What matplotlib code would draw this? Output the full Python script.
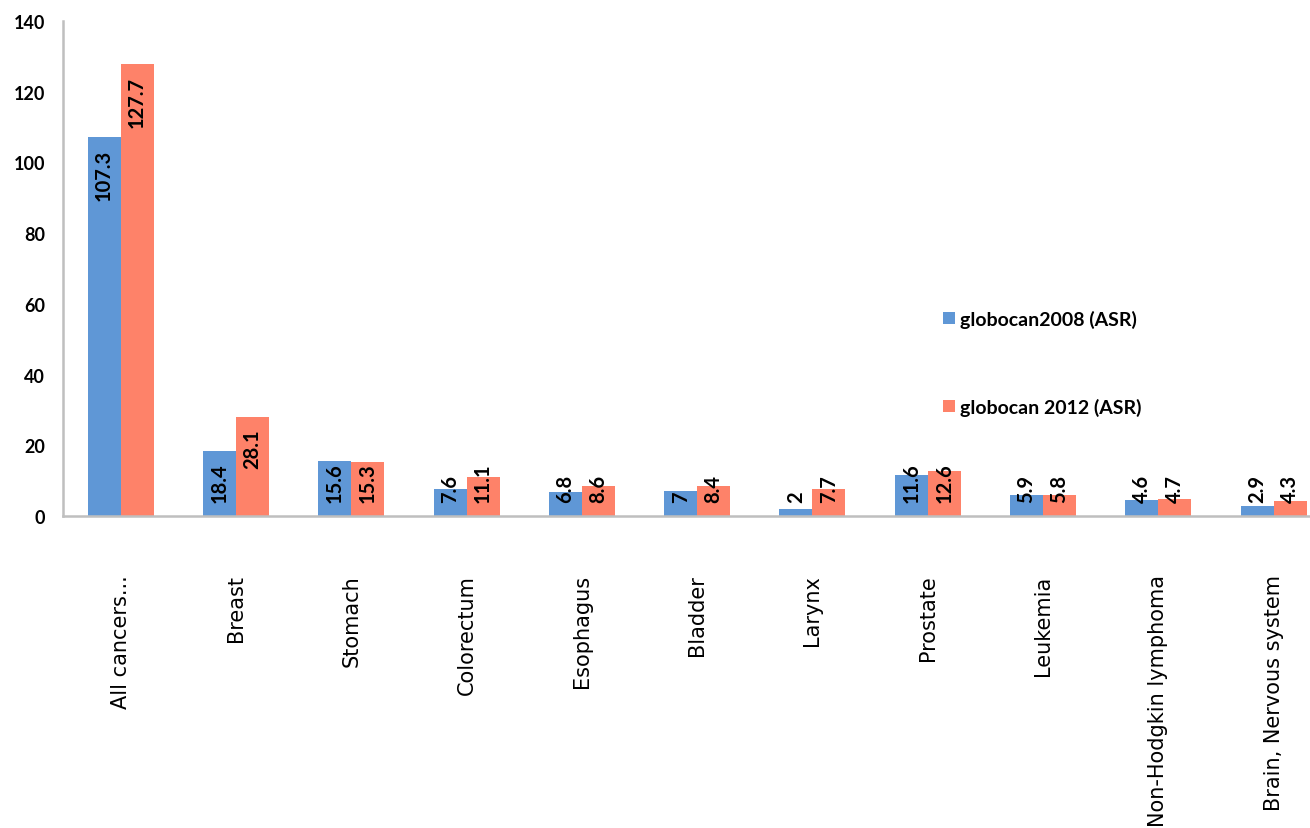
import numpy as np
import matplotlib.pyplot as plt

sites = ['All cancers...', 'Breast', 'Stomach', 'Colorectum', 'Esophagus',
         'Bladder', 'Larynx', 'Prostate', 'Leukemia', 'Non-Hodgkin lymphoma',
         'Brain, Nervous system']
asr_2008 = [107.3, 18.4, 15.6, 7.6, 6.8, 7, 2, 11.6, 5.9, 4.6, 2.9]
asr_2012 = [127.7, 28.1, 15.3, 11.1, 8.6, 8.4, 7.7, 12.6, 5.8, 4.7, 4.3]
series_names = ['globocan2008 (ASR)', 'globocan 2012 (ASR)']
colors = ['#5f97d6', '#fe8269']

fig = plt.figure(figsize=(13.1, 8.29), dpi=100)
ax = fig.add_axes([63 / 1310, (829 - 517) / 829, (1310 - 63) / 1310, 495 / 829])

x = np.arange(len(sites))
w = 0.286
b1 = ax.bar(x - w / 2, asr_2008, w, color=colors[0], label=series_names[0])
b2 = ax.bar(x + w / 2, asr_2012, w, color=colors[1], label=series_names[1])

ax.set_xlim(-0.5, 10.315)
ax.set_ylim(0, 140)
ax.set_yticks(np.arange(0, 141, 20))
ax.set_xticks(x)
ax.set_xticklabels(sites)
ax.tick_params(axis='x', length=0, pad=42)
ax.tick_params(axis='y', length=0, pad=13)
for lab in ax.get_xticklabels():
    lab.set_rotation(90)
    lab.set_fontfamily('DejaVu Sans')
    lab.set_fontsize(15)
    lab.set_verticalalignment('top')
    lab.set_horizontalalignment('center')
for lab in ax.get_yticklabels():
    lab.set_fontfamily('Lato')
    lab.set_fontweight('bold')
    lab.set_fontsize(13)

for s in ['top', 'right']:
    ax.spines[s].set_visible(False)
for s in ['left', 'bottom']:
    ax.spines[s].set_color('#bfbfbf')
    ax.spines[s].set_linewidth(1.8)

# value labels, rotated, placed inside the top of each bar
texts = []
for bars, vals in [(b1, asr_2008), (b2, asr_2012)]:
    for rect, v in zip(bars, vals):
        t = ax.text(rect.get_x() + rect.get_width() / 2, v, '%g' % v,
                    rotation=90, ha='center', va='bottom', fontsize=14.5,
                    family='Lato', fontweight='bold', color='black')
        texts.append((t, v))

fig.canvas.draw()
renderer = fig.canvas.get_renderer()
base_px = ax.transData.transform((0, 0))[1]
for t, v in texts:
    bb = t.get_window_extent(renderer)
    top_px = ax.transData.transform((0, v))[1] - 12
    # short bars: keep the label just above the baseline
    bottom_px = max(top_px - bb.height, base_px + 14)
    xd = t.get_position()[0]
    yd = ax.transData.inverted().transform((0, bottom_px))[1]
    t.set_position((xd, yd))

leg = ax.legend(loc='upper left', bbox_to_anchor=(943 / 1310, (829 - 311) / 829),
                bbox_transform=fig.transFigure, frameon=False,
                prop={'family': 'Lato', 'weight': 'bold', 'size': 14},
                handlelength=0.6, handleheight=0.6, handletextpad=0.3,
                labelspacing=3.6, borderpad=0, borderaxespad=0)

fig.savefig('out.png', dpi=100)
